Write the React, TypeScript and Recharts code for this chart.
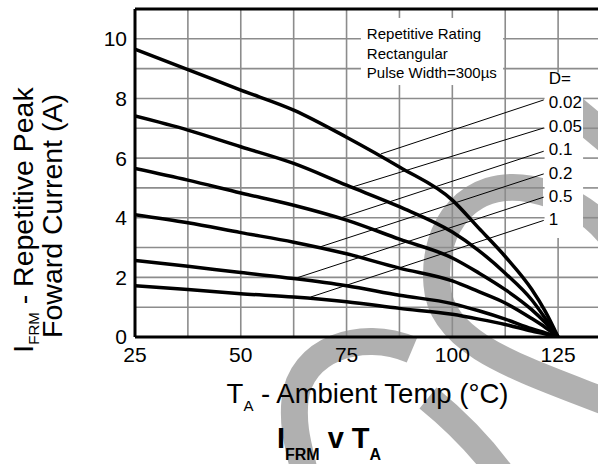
import React from 'react';
import {
  LineChart,
  Line,
  XAxis,
  YAxis,
  ReferenceLine,
  ReferenceDot,
} from 'recharts';

// ---- data ----
const temps = [25, 37.5, 50, 62.5, 75, 87.5, 100, 106.25, 112.5, 118.75, 122, 125];
const i002 = [9.65, 8.97, 8.28, 7.61, 6.7, 5.7, 4.59, 3.65, 2.7, 1.6, 0.85, 0];
const i005 = [7.41, 6.94, 6.38, 5.82, 5.09, 4.37, 3.52, 2.9, 2.14, 1.25, 0.62, 0];
const i01 = [5.65, 5.26, 4.83, 4.42, 3.92, 3.28, 2.65, 2.15, 1.59, 0.92, 0.48, 0];
const i02 = [4.1, 3.83, 3.5, 3.18, 2.79, 2.31, 1.88, 1.52, 1.14, 0.62, 0.32, 0];
const i05 = [2.57, 2.37, 2.16, 1.96, 1.72, 1.4, 1.12, 0.88, 0.6, 0.28, 0.14, 0];
const i1 = [1.72, 1.59, 1.45, 1.34, 1.18, 0.96, 0.76, 0.6, 0.42, 0.2, 0.1, 0];

const seriesKeys = ['d002', 'd005', 'd01', 'd02', 'd05', 'd1'];
const seriesValues = [i002, i005, i01, i02, i05, i1];

const xDomain = [25, 137.5];
const yDomain = [0, 11];
const xTicks = [25, 50, 75, 100, 125];
const yTicks = [0, 2, 4, 6, 8, 10];
const xGrid = [37.5, 50, 62.5, 75, 87.5, 100, 112.5, 125];
const yGrid = [1, 2, 3, 4, 5, 6, 7, 8, 9, 10];

const dutyLabels = ['0.02', '0.05', '0.1', '0.2', '0.5', '1'];
const leaderFromT = [83.1, 76.4, 73.5, 68.5, 63.4, 66.5];
const leaderFromI = [6.14, 5.03, 3.99, 3.01, 1.99, 1.34];
const leaderToT = 121.6;
const leaderToI = [7.95, 7.01, 6.23, 5.47, 4.69, 3.91];
const labelT = 122.8;
const labelI = [7.85, 7.05, 6.29, 5.48, 4.72, 3.94];
const dHeaderI = 8.66;

const noteLines = ['Repetitive Rating', 'Rectangular', 'Pulse Width=300\u00b5s'];
const noteT = 79.8;
const noteI = [10.0, 9.33, 8.69];

// blank areas behind the annotation texts, where the grid is interrupted (data units)
const boxes = [
  { x1: 78.4, x2: 112, y1: 8.45, y2: 10.7 },
  { x1: 121.8, x2: 130.9, y1: 3.32, y2: 8.87 },
];

const data = temps.map((t, i) => {
  const row: Record<string, number> = { t };
  seriesKeys.forEach((k, j) => {
    row[k] = seriesValues[j][i];
  });
  return row;
});

// split a grid line [a,b] around the boxes it crosses
function splitRange(
  a: number,
  b: number,
  gaps: Array<[number, number]>
): Array<[number, number]> {
  const sorted = gaps.slice().sort((p, q) => p[0] - q[0]);
  const out: Array<[number, number]> = [];
  let cur = a;
  sorted.forEach(([g0, g1]) => {
    if (g0 > cur) out.push([cur, g0]);
    cur = Math.max(cur, g1);
  });
  if (cur < b) out.push([cur, b]);
  return out;
}

const vSegs: Array<{ v: number; a: number; b: number }> = [];
xGrid.forEach((v) => {
  const gaps = boxes
    .filter((bx) => v > bx.x1 && v < bx.x2)
    .map((bx) => [bx.y1, bx.y2] as [number, number]);
  splitRange(yDomain[0], yDomain[1], gaps).forEach(([a, b]) => vSegs.push({ v, a, b }));
});
const hSegs: Array<{ v: number; a: number; b: number }> = [];
yGrid.forEach((v) => {
  const gaps = boxes
    .filter((bx) => v > bx.y1 && v < bx.y2)
    .map((bx) => [bx.x1, bx.x2] as [number, number]);
  splitRange(xDomain[0], xDomain[1], gaps).forEach(([a, b]) => hSegs.push({ v, a, b }));
});

const FONT = '"Liberation Sans", Arial, Helvetica, sans-serif';
const GRID = '#8c8c8c';

const textShape = (txt: string, size: number, baseline: string) => (props: any) => (
  <text
    x={props.cx}
    y={props.cy}
    fontSize={size}
    fontFamily={FONT}
    fill="#000"
    dominantBaseline={baseline}
  >
    {txt}
  </text>
);

const lineShape = (color: string, width: number) => (props: any) => (
  <line
    x1={props.x1}
    y1={props.y1}
    x2={props.x2}
    y2={props.y2}
    stroke={color}
    strokeWidth={width}
  />
);

export default function App() {
  return (
    <div
      style={{
        position: 'fixed',
        left: 0,
        top: 0,
        width: 598,
        height: 464,
        overflow: 'hidden',
        background: '#fff',
      }}
    >
      {/* background watermark (decoration only) */}
      <svg width={598} height={464} style={{ position: 'absolute', left: 0, top: 0 }}>
        <defs>
          <clipPath id="wmclip">
            <path
              clipRule="evenodd"
              d="M0,0 H598 V464 H0 Z M543,72 V238 H583 V72 Z"
            />
          </clipPath>
        </defs>
        <g fill="none" stroke="#b0b0b0" strokeWidth={27} clipPath="url(#wmclip)">
          <path d="M614,240 Q585,200 530,189 C470,178 432,225 437,285 C441,345 520,368 614,405" />
          <path d="M412,350 C360,328 300,350 295,400 C292,430 300,450 305,475" />
          <path d="M428,398 C455,420 480,445 502,475" />
          <path d="M566,104 L614,144" strokeWidth={30} />
        </g>
      </svg>
      <div style={{ position: 'absolute', left: 0, top: 0 }}>
        <LineChart
          width={611}
          height={464}
          data={data}
          margin={{ top: 9, right: 0, bottom: 0, left: 0 }}
        >
          <XAxis
            type="number"
            dataKey="t"
            domain={xDomain}
            ticks={xTicks}
            allowDataOverflow
            height={127}
            tickLine={false}
            tickMargin={4}
            axisLine={{ stroke: '#000', strokeWidth: 3 }}
            tick={{ fill: '#000', fontSize: 21, fontFamily: FONT }}
          />
          <YAxis
            type="number"
            domain={yDomain}
            ticks={yTicks}
            allowDataOverflow
            width={135}
            tickLine={false}
            tickMargin={2}
            axisLine={{ stroke: '#000', strokeWidth: 3 }}
            tick={{ fill: '#000', fontSize: 21, fontFamily: FONT }}
          />
          {vSegs.map((s, i) => (
            <ReferenceLine
              key={'gx' + i}
              segment={[
                { x: s.v, y: s.a },
                { x: s.v, y: s.b },
              ]}
              stroke={GRID}
              strokeWidth={1.6}
              shape={lineShape(GRID, 1.6)}
              ifOverflow="visible"
            />
          ))}
          {hSegs.map((s, i) => (
            <ReferenceLine
              key={'gy' + i}
              segment={[
                { x: s.a, y: s.v },
                { x: s.b, y: s.v },
              ]}
              stroke={GRID}
              strokeWidth={1.6}
              shape={lineShape(GRID, 1.6)}
              ifOverflow="visible"
            />
          ))}
          <ReferenceLine
            segment={[
              { x: xDomain[0], y: yDomain[1] },
              { x: xDomain[1], y: yDomain[1] },
            ]}
            stroke="#000"
            strokeWidth={3}
            shape={lineShape('#000', 3)}
            ifOverflow="visible"
          />
          {leaderFromT.map((t, i) => (
            <ReferenceLine
              key={'ld' + i}
              segment={[
                { x: t, y: leaderFromI[i] },
                { x: leaderToT, y: leaderToI[i] },
              ]}
              stroke="#000"
              strokeWidth={1}
              shape={lineShape('#000', 1)}
              ifOverflow="visible"
            />
          ))}
          {seriesKeys.map((k) => (
            <Line
              key={k}
              type="monotone"
              dataKey={k}
              stroke="#000"
              strokeWidth={3.5}
              dot={false}
              isAnimationActive={false}
            />
          ))}
          {noteLines.map((txt, i) => (
            <ReferenceDot
              key={'nt' + i}
              x={noteT}
              y={noteI[i]}
              r={0}
              ifOverflow="visible"
              shape={textShape(txt, 15, 'alphabetic')}
            />
          ))}
          <ReferenceDot
            x={labelT}
            y={dHeaderI}
            r={0}
            ifOverflow="visible"
            shape={textShape('D=', 17, 'central')}
          />
          {dutyLabels.map((txt, i) => (
            <ReferenceDot
              key={'dl' + i}
              x={labelT}
              y={labelI[i]}
              r={0}
              ifOverflow="visible"
              shape={textShape(txt, 17, 'central')}
            />
          ))}
        </LineChart>
      </div>
      <svg
        width={598}
        height={464}
        style={{ position: 'absolute', left: 0, top: 0, pointerEvents: 'none' }}
        fontFamily={FONT}
      >
        <g transform="translate(33,220) rotate(-90)">
          <text x={0} y={0} textAnchor="middle" fontSize={28.5} fill="#000">
            I
            <tspan fontSize={15} dy={6}>
              FRM
            </tspan>
            <tspan fontSize={28.5} dy={-6}>
              {' - Repetitive Peak'}
            </tspan>
          </text>
        </g>
        <g transform="translate(62,216) rotate(-90)">
          <text x={0} y={0} textAnchor="middle" fontSize={28.5} fill="#000">
            Foward Current (A)
          </text>
        </g>
        <text x={367.5} y={403} textAnchor="middle" fontSize={27.5} fill="#000">
          T
          <tspan fontSize={15} dy={8}>
            A
          </tspan>
          <tspan fontSize={27.5} dy={-8}>
            {' - Ambient Temp (\u00b0C)'}
          </tspan>
        </text>
        <text x={329} y={448} textAnchor="middle" fontSize={29} fontWeight="bold" fill="#000">
          I
          <tspan fontSize={16} dy={12}>
            FRM
          </tspan>
          <tspan fontSize={29} dy={-12}>
            {' v T'}
          </tspan>
          <tspan fontSize={16} dy={12}>
            A
          </tspan>
        </text>
      </svg>
    </div>
  );
}
